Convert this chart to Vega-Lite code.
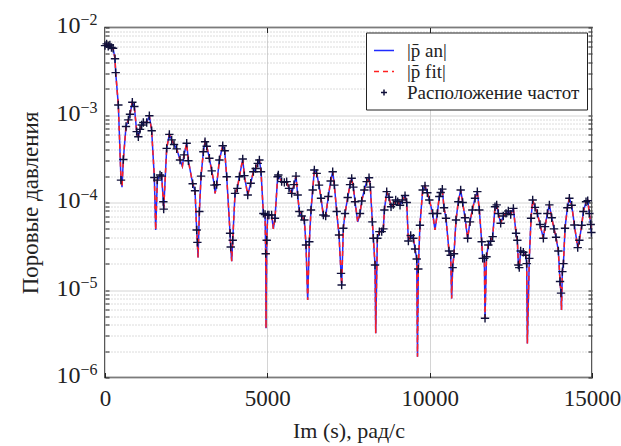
{
  "$schema": "https://vega.github.io/schema/vega-lite/v6.json",
  "autosize": {"type": "none"},
  "width": 487,
  "height": 350,
  "padding": {"left": 105, "top": 27.5, "right": 29, "bottom": 68.5},
  "background": "white",
  "config": {
    "view": {"stroke": "#222", "strokeWidth": 1.5},
    "font": "Liberation Serif",
    "legend": {"labelFont": "Liberation Serif", "titleFont": "Liberation Serif", "labelLimit": 400},
    "axis": {"domain": false, "labelFont": "Liberation Serif", "titleFont": "Liberation Serif", "labelColor": "#222", "titleColor": "#222", "titleFontWeight": "normal", "labelFlush": false, "labelOverlap": false, "tickColor": "#222"}
  },
  "data": {"values": [
    {"x": 0, "p": 6.2e-3, "m": 1}, {"x": 50, "p": 6.5e-3, "m": 1}, {"x": 100, "p": 6.1e-3, "m": 1}, {"x": 150, "p": 6.3e-3, "m": 1}, {"x": 200, "p": 5.9e-3, "m": 1}, {"x": 250, "p": 5.8e-3, "m": 1},
    {"x": 308, "p": 4.4e-3, "m": 1}, {"x": 329, "p": 3.05e-3, "m": 1}, {"x": 411, "p": 1.3e-3, "m": 1}, {"x": 493, "p": 1.8e-4, "m": 1}, {"x": 524, "p": 1.5e-4, "m": 0},
    {"x": 565, "p": 3.1e-4, "m": 1}, {"x": 647, "p": 7.4e-4, "m": 1}, {"x": 719, "p": 8.8e-4, "m": 1}, {"x": 770, "p": 1.02e-3, "m": 1}, {"x": 842, "p": 1.4e-3, "m": 1},
    {"x": 904, "p": 1.25e-3, "m": 1}, {"x": 976, "p": 6.45e-4, "m": 1}, {"x": 1027, "p": 5.65e-4, "m": 1}, {"x": 1078, "p": 6.85e-4, "m": 1}, {"x": 1130, "p": 7.7e-4, "m": 1},
    {"x": 1181, "p": 8.2e-4, "m": 1}, {"x": 1284, "p": 8.2e-4, "m": 1}, {"x": 1366, "p": 9.8e-4, "m": 1}, {"x": 1438, "p": 6.6e-4, "m": 1}, {"x": 1520, "p": 1.93e-4, "m": 1},
    {"x": 1561, "p": 4.85e-5, "m": 0}, {"x": 1612, "p": 1.8e-4, "m": 1}, {"x": 1695, "p": 2.06e-4, "m": 1}, {"x": 1746, "p": 2.0e-4, "m": 1}, {"x": 1797, "p": 1.02e-4, "m": 1},
    {"x": 1808, "p": 8.4e-5, "m": 1}, {"x": 1900, "p": 4.16e-4, "m": 1}, {"x": 1982, "p": 6.0e-4, "m": 1}, {"x": 2054, "p": 5.2e-4, "m": 1}, {"x": 2126, "p": 4.6e-4, "m": 1},
    {"x": 2208, "p": 4.1e-4, "m": 1}, {"x": 2311, "p": 3.06e-4, "m": 1}, {"x": 2383, "p": 2.6e-4, "m": 0}, {"x": 2434, "p": 3.5e-4, "m": 1}, {"x": 2516, "p": 4.75e-4, "m": 1},
    {"x": 2568, "p": 3.0e-4, "m": 1}, {"x": 2701, "p": 1.64e-4, "m": 1}, {"x": 2773, "p": 1.36e-4, "m": 1}, {"x": 2824, "p": 4.85e-5, "m": 1}, {"x": 2845, "p": 3.5e-5, "m": 1},
    {"x": 2866, "p": 2.36e-5, "m": 0}, {"x": 2907, "p": 7.9e-5, "m": 1}, {"x": 2958, "p": 2.0e-4, "m": 1}, {"x": 3030, "p": 3.8e-4, "m": 1}, {"x": 3081, "p": 4.95e-4, "m": 1},
    {"x": 3133, "p": 4.4e-4, "m": 1}, {"x": 3215, "p": 3.2e-4, "m": 1}, {"x": 3287, "p": 2.3e-4, "m": 1}, {"x": 3369, "p": 1.58e-4, "m": 1}, {"x": 3390, "p": 1.27e-4, "m": 0},
    {"x": 3441, "p": 1.6e-4, "m": 1}, {"x": 3523, "p": 3.06e-4, "m": 1}, {"x": 3626, "p": 4.45e-4, "m": 1}, {"x": 3687, "p": 3.9e-4, "m": 1}, {"x": 3749, "p": 1.97e-4, "m": 1},
    {"x": 3852, "p": 4.45e-5, "m": 1}, {"x": 3872, "p": 3.1e-5, "m": 1}, {"x": 3903, "p": 2.14e-5, "m": 0}, {"x": 3934, "p": 3.7e-5, "m": 1}, {"x": 4005, "p": 1.27e-4, "m": 1},
    {"x": 4077, "p": 1.45e-4, "m": 1}, {"x": 4139, "p": 1.97e-4, "m": 1}, {"x": 4242, "p": 3.14e-4, "m": 1}, {"x": 4293, "p": 2.03e-4, "m": 1}, {"x": 4396, "p": 1.22e-4, "m": 1},
    {"x": 4488, "p": 1.66e-4, "m": 1}, {"x": 4570, "p": 2.25e-4, "m": 1}, {"x": 4642, "p": 2.45e-4, "m": 1}, {"x": 4704, "p": 2.8e-4, "m": 1}, {"x": 4755, "p": 3.06e-4, "m": 1},
    {"x": 4806, "p": 2.25e-4, "m": 1}, {"x": 4878, "p": 7.5e-5, "m": 1}, {"x": 4930, "p": 7.3e-5, "m": 1}, {"x": 4950, "p": 2.6e-5, "m": 1}, {"x": 4960, "p": 3.65e-6, "m": 0},
    {"x": 4981, "p": 3.7e-5, "m": 1}, {"x": 5012, "p": 7.2e-5, "m": 1}, {"x": 5051, "p": 7.2e-5, "m": 1}, {"x": 5133, "p": 7.2e-5, "m": 1}, {"x": 5185, "p": 5.0e-5, "m": 0},
    {"x": 5236, "p": 6.6e-5, "m": 1}, {"x": 5318, "p": 1.97e-4, "m": 1}, {"x": 5339, "p": 2.06e-4, "m": 1}, {"x": 5441, "p": 1.73e-4, "m": 1}, {"x": 5524, "p": 1.7e-4, "m": 1},
    {"x": 5596, "p": 1.73e-4, "m": 1}, {"x": 5667, "p": 1.45e-4, "m": 1}, {"x": 5750, "p": 1.27e-4, "m": 1}, {"x": 5821, "p": 1.6e-4, "m": 1}, {"x": 5883, "p": 2.0e-4, "m": 1},
    {"x": 5934, "p": 1.22e-4, "m": 1}, {"x": 5986, "p": 7.9e-5, "m": 1}, {"x": 6058, "p": 7.0e-5, "m": 1}, {"x": 6140, "p": 6.3e-5, "m": 1}, {"x": 6191, "p": 3.27e-5, "m": 1},
    {"x": 6243, "p": 7.7e-6, "m": 0}, {"x": 6294, "p": 3.56e-5, "m": 1}, {"x": 6345, "p": 8.2e-5, "m": 1}, {"x": 6397, "p": 1.39e-4, "m": 1}, {"x": 6448, "p": 2.35e-4, "m": 1},
    {"x": 6520, "p": 2.15e-4, "m": 1}, {"x": 6592, "p": 1.58e-4, "m": 1}, {"x": 6653, "p": 1.12e-4, "m": 1}, {"x": 6725, "p": 7.2e-5, "m": 1}, {"x": 6797, "p": 7.0e-5, "m": 1},
    {"x": 6879, "p": 1.17e-4, "m": 1}, {"x": 6951, "p": 1.76e-4, "m": 1}, {"x": 7013, "p": 2.25e-4, "m": 1}, {"x": 7064, "p": 1.58e-4, "m": 1}, {"x": 7136, "p": 7.9e-5, "m": 1},
    {"x": 7208, "p": 4.26e-5, "m": 1}, {"x": 7269, "p": 1.55e-5, "m": 1}, {"x": 7290, "p": 1.14e-5, "m": 1}, {"x": 7341, "p": 5.07e-5, "m": 1}, {"x": 7393, "p": 7.5e-5, "m": 1},
    {"x": 7475, "p": 1.14e-4, "m": 1}, {"x": 7547, "p": 1.6e-4, "m": 1}, {"x": 7598, "p": 1.89e-4, "m": 1}, {"x": 7650, "p": 1.5e-4, "m": 1}, {"x": 7701, "p": 1.02e-4, "m": 1},
    {"x": 7783, "p": 6.0e-5, "m": 0}, {"x": 7855, "p": 7.5e-5, "m": 1}, {"x": 7906, "p": 1.04e-4, "m": 1}, {"x": 7988, "p": 1.39e-4, "m": 1}, {"x": 8060, "p": 1.73e-4, "m": 1},
    {"x": 8132, "p": 1.92e-4, "m": 1}, {"x": 8173, "p": 1.5e-4, "m": 1}, {"x": 8235, "p": 6.0e-5, "m": 1}, {"x": 8266, "p": 3.9e-5, "m": 1}, {"x": 8317, "p": 1.93e-5, "m": 1},
    {"x": 8338, "p": 3.2e-6, "m": 0}, {"x": 8389, "p": 3.9e-5, "m": 1}, {"x": 8451, "p": 4.65e-5, "m": 1}, {"x": 8523, "p": 4.65e-5, "m": 1}, {"x": 8574, "p": 5.0e-5, "m": 1},
    {"x": 8605, "p": 8.2e-5, "m": 1}, {"x": 8677, "p": 1.33e-4, "m": 1}, {"x": 8749, "p": 1.15e-4, "m": 1}, {"x": 8810, "p": 8.95e-5, "m": 1}, {"x": 8882, "p": 9.5e-5, "m": 1},
    {"x": 8954, "p": 1.07e-4, "m": 1}, {"x": 9016, "p": 1.02e-4, "m": 1}, {"x": 9087, "p": 9.3e-5, "m": 1}, {"x": 9159, "p": 1.07e-4, "m": 1}, {"x": 9241, "p": 1.2e-4, "m": 1},
    {"x": 9293, "p": 1.0e-4, "m": 1}, {"x": 9344, "p": 3.63e-5, "m": 1}, {"x": 9416, "p": 4.2e-5, "m": 1}, {"x": 9498, "p": 3.9e-5, "m": 1}, {"x": 9550, "p": 2.94e-5, "m": 1},
    {"x": 9601, "p": 2.26e-5, "m": 1}, {"x": 9625, "p": 1.73e-6, "m": 0}, {"x": 9650, "p": 1.74e-5, "m": 1}, {"x": 9700, "p": 5.5e-5, "m": 1}, {"x": 9785, "p": 1.39e-4, "m": 1},
    {"x": 9856, "p": 1.55e-4, "m": 1}, {"x": 9928, "p": 1.29e-4, "m": 1}, {"x": 9990, "p": 1.07e-4, "m": 1}, {"x": 10093, "p": 7.5e-5, "m": 1}, {"x": 10164, "p": 4.85e-5, "m": 0},
    {"x": 10236, "p": 7.5e-5, "m": 1}, {"x": 10297, "p": 1.17e-4, "m": 1}, {"x": 10339, "p": 1.3e-4, "m": 1}, {"x": 10390, "p": 1.42e-4, "m": 1}, {"x": 10441, "p": 8.7e-5, "m": 1},
    {"x": 10503, "p": 6.6e-5, "m": 1}, {"x": 10595, "p": 2.79e-5, "m": 1}, {"x": 10647, "p": 2.5e-5, "m": 1}, {"x": 10677, "p": 8.0e-6, "m": 0}, {"x": 10708, "p": 1.8e-5, "m": 1},
    {"x": 10750, "p": 2.6e-5, "m": 1}, {"x": 10811, "p": 6.3e-5, "m": 1}, {"x": 10883, "p": 1.02e-4, "m": 1}, {"x": 10955, "p": 1.39e-4, "m": 1}, {"x": 11017, "p": 1.0e-4, "m": 1},
    {"x": 11088, "p": 6.7e-5, "m": 1}, {"x": 11170, "p": 3.9e-5, "m": 1}, {"x": 11242, "p": 6.0e-5, "m": 1}, {"x": 11314, "p": 8.2e-5, "m": 1}, {"x": 11397, "p": 1.12e-4, "m": 1},
    {"x": 11468, "p": 1.33e-4, "m": 1}, {"x": 11530, "p": 8.2e-5, "m": 1}, {"x": 11602, "p": 3.56e-5, "m": 1}, {"x": 11633, "p": 2.3e-5, "m": 1}, {"x": 11684, "p": 2.3e-5, "m": 1},
    {"x": 11705, "p": 4.75e-6, "m": 1}, {"x": 11750, "p": 2.4e-5, "m": 1}, {"x": 11807, "p": 3.27e-5, "m": 1}, {"x": 11879, "p": 3.6e-5, "m": 1}, {"x": 11941, "p": 4.07e-5, "m": 1},
    {"x": 12013, "p": 8.95e-5, "m": 1}, {"x": 12064, "p": 9.4e-5, "m": 1}, {"x": 12115, "p": 7.5e-5, "m": 1}, {"x": 12187, "p": 5.8e-5, "m": 1}, {"x": 12269, "p": 7.0e-5, "m": 1},
    {"x": 12352, "p": 7.5e-5, "m": 1}, {"x": 12423, "p": 8.0e-5, "m": 1}, {"x": 12495, "p": 7.3e-5, "m": 1}, {"x": 12578, "p": 8.57e-5, "m": 1}, {"x": 12660, "p": 4.45e-5, "m": 1},
    {"x": 12701, "p": 3.7e-5, "m": 1}, {"x": 12732, "p": 1.93e-5, "m": 1}, {"x": 12760, "p": 1.8e-5, "m": 1}, {"x": 12803, "p": 2.79e-5, "m": 1}, {"x": 12886, "p": 2.7e-5, "m": 1},
    {"x": 12958, "p": 2.5e-5, "m": 1}, {"x": 12988, "p": 2.0e-5, "m": 1}, {"x": 13009, "p": 2.45e-6, "m": 0}, {"x": 13070, "p": 2.3e-5, "m": 1}, {"x": 13122, "p": 6.6e-5, "m": 1},
    {"x": 13173, "p": 1.07e-4, "m": 1}, {"x": 13245, "p": 8.8e-5, "m": 1}, {"x": 13317, "p": 7.5e-5, "m": 1}, {"x": 13399, "p": 5.6e-5, "m": 1}, {"x": 13502, "p": 3.9e-5, "m": 1},
    {"x": 13553, "p": 5.3e-5, "m": 1}, {"x": 13625, "p": 7.5e-5, "m": 1}, {"x": 13687, "p": 9.4e-5, "m": 1}, {"x": 13759, "p": 6.7e-5, "m": 1}, {"x": 13830, "p": 5.0e-5, "m": 1},
    {"x": 13892, "p": 4.0e-5, "m": 1}, {"x": 13964, "p": 2.79e-5, "m": 1}, {"x": 14015, "p": 1.25e-5, "m": 1}, {"x": 14046, "p": 9.2e-6, "m": 1}, {"x": 14060, "p": 5.9e-6, "m": 0},
    {"x": 14087, "p": 1.62e-5, "m": 1}, {"x": 14120, "p": 2.0e-5, "m": 1}, {"x": 14169, "p": 5.07e-5, "m": 1}, {"x": 14241, "p": 8.7e-5, "m": 1}, {"x": 14303, "p": 1.12e-4, "m": 1},
    {"x": 14375, "p": 9.3e-5, "m": 1}, {"x": 14457, "p": 5.53e-5, "m": 1}, {"x": 14560, "p": 3.05e-5, "m": 1}, {"x": 14611, "p": 3.7e-5, "m": 1}, {"x": 14683, "p": 5.5e-5, "m": 1},
    {"x": 14734, "p": 7.9e-5, "m": 1}, {"x": 14816, "p": 1.02e-4, "m": 1}, {"x": 14868, "p": 1.05e-4, "m": 1}, {"x": 14919, "p": 7.5e-5, "m": 1}, {"x": 14960, "p": 5.6e-5, "m": 1},
    {"x": 14981, "p": 4.54e-5, "m": 1}, {"x": 15000, "p": 4.5e-5, "m": 0}
  ]},
  "resolve": {"axis": {"x": "independent", "y": "independent"}},
  "layer": [
    {
      "mark": {"type": "line", "strokeWidth": 1.5},
      "encoding": {
        "x": {"field": "x", "type": "quantitative", "scale": {"domain": [0, 15000], "nice": false},
          "axis": {"orient": "bottom", "values": [0, 5000, 10000, 15000], "format": "d", "grid": true, "gridColor": "#d4d4d4", "gridWidth": 1, "tickSize": -5, "labelFontSize": 23, "labelPadding": 15, "title": "Im (s), рад/с", "titleFontSize": 22, "titlePadding": 10}},
        "y": {"field": "p", "type": "quantitative", "scale": {"type": "log", "domain": [1e-6, 1e-2], "nice": false},
          "axis": {"orient": "left",
            "values": [1e-6, 2e-6, 3e-6, 4e-6, 5e-6, 6e-6, 7e-6, 8e-6, 9e-6, 1e-5, 2e-5, 3e-5, 4e-5, 5e-5, 6e-5, 7e-5, 8e-5, 9e-5, 1e-4, 2e-4, 3e-4, 4e-4, 5e-4, 6e-4, 7e-4, 8e-4, 9e-4, 1e-3, 2e-3, 3e-3, 4e-3, 5e-3, 6e-3, 7e-3, 8e-3, 9e-3, 1e-2],
            "grid": true,
            "gridColor": {"condition": {"test": "abs(log(datum.value)/LN10 - round(log(datum.value)/LN10)) < 0.001", "value": "#d4d4d4"}, "value": "#b8b8b8"},
            "gridDash": {"condition": {"test": "abs(log(datum.value)/LN10 - round(log(datum.value)/LN10)) < 0.001", "value": []}, "value": [1, 2]},
            "tickSize": -4,
            "labelExpr": "abs(log(datum.value)/LN10 - round(log(datum.value)/LN10)) < 0.001 ? '10' : ''",
            "labelFontSize": 24, "labelPadding": 29, "labelOffset": -2,
            "title": "Поровые давления", "titleFontSize": 23, "titlePadding": 14}},
        "color": {"datum": "an", "type": "nominal", "scale": {"domain": ["an", "fit", "loc"], "range": ["#1f2bff", "#ff2020", "#10103a"]},
          "legend": {"orient": "top-right", "offset": 5, "title": null, "labelExpr": "datum.value === 'an' ? '|p̄ an|' : datum.value === 'fit' ? '|p̄ fit|' : 'Расположение частот'",
            "labelFont": "Liberation Serif", "labelFontSize": 19, "labelLimit": 400, "labelColor": "#222", "strokeColor": "#222", "fillColor": "white", "padding": 7,
            "symbolSize": 400, "symbolStrokeWidth": 1.5, "rowPadding": 0, "labelOffset": 12,
            "encode": {"symbols": {"update": {"size": {"signal": "datum.value === 'loc' ? 36 : 400"}}}}}},
        "strokeDash": {"datum": "an", "type": "nominal", "scale": {"domain": ["an", "fit", "loc"], "range": [[1, 0], [5, 4], [1, 0]]}}
      }
    },
    {
      "mark": {"type": "line", "strokeWidth": 1.5},
      "encoding": {
        "x": {"field": "x", "type": "quantitative",
          "axis": {"orient": "top", "values": [5000, 10000], "grid": false, "tickSize": -5, "labels": false, "title": null}},
        "y": {"field": "p", "type": "quantitative",
          "axis": {"orient": "left", "values": [1e-6, 1e-5, 1e-4, 1e-3, 1e-2], "grid": false, "ticks": false,
            "labelExpr": "'−' + format(-log(datum.value)/LN10, '.0f')", "labelAlign": "left", "labelPadding": 25, "labelFontSize": 16, "labelOffset": -8, "title": null}},
        "color": {"datum": "fit", "type": "nominal"},
        "strokeDash": {"datum": "fit", "type": "nominal"}
      }
    },
    {
      "transform": [{"filter": "datum.m == 1"}],
      "mark": {"type": "point", "filled": false, "strokeWidth": 1.4, "size": 70, "opacity": 1},
      "encoding": {
        "x": {"field": "x", "type": "quantitative", "axis": null},
        "y": {"field": "p", "type": "quantitative",
          "axis": {"orient": "right", "values": [1e-6, 2e-6, 3e-6, 4e-6, 5e-6, 6e-6, 7e-6, 8e-6, 9e-6, 1e-5, 2e-5, 3e-5, 4e-5, 5e-5, 6e-5, 7e-5, 8e-5, 9e-5, 1e-4, 2e-4, 3e-4, 4e-4, 5e-4, 6e-4, 7e-4, 8e-4, 9e-4, 1e-3, 2e-3, 3e-3, 4e-3, 5e-3, 6e-3, 7e-3, 8e-3, 9e-3, 1e-2],
            "grid": false, "tickSize": -4, "labels": false, "title": null}},
        "color": {"datum": "loc", "type": "nominal"},
        "shape": {"datum": "loc", "type": "nominal", "scale": {"domain": ["an", "fit", "loc"], "range": ["stroke", "stroke", "M-1,0L1,0M0,-1L0,1"]}},
        "strokeDash": {"datum": "loc", "type": "nominal"}
      }
    }
  ]
}
